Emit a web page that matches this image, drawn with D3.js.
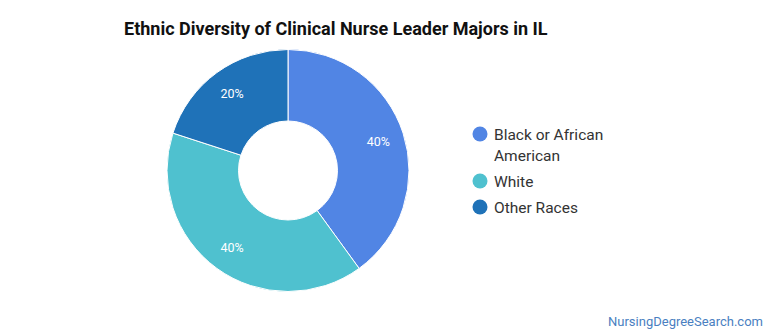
<!DOCTYPE html>
<html>
<head>
<meta charset="utf-8">
<script src="https://cdn.jsdelivr.net/npm/d3@7"></script>
<style>
  html, body { margin: 0; padding: 0; background: #fff; }
  body { width: 770px; height: 335px; overflow: hidden; font-family: Roboto, "Open Sans", sans-serif; }
</style>
</head>
<body>
<svg id="chart" width="770" height="335"></svg>
<script>
const title = "Ethnic Diversity of Clinical Nurse Leader Majors in IL";
const categories = ["Black or African American", "White", "Other Races"];
const legendLines = [["Black or African", "American"], ["White"], ["Other Races"]];
const values = [40, 40, 20];
const colors = ["#5185e4", "#4fc1cf", "#1f72b8"];
const watermark = "NursingDegreeSearch.com";

const svg = d3.select("#chart");

svg.append("text")
  .attr("x", 124).attr("y", 35)
  .attr("font-family", "Roboto, sans-serif")
  .attr("font-weight", "bold")
  .attr("font-size", 18)
  .attr("fill", "#111")
  .text(title);

const cx = 288, cy = 170.5, rOuter = 121, rInner = 49.5, rLabel = 95;
const pie = d3.pie().sort(null).value(d => d);
const arcs = pie(values);
const arc = d3.arc().innerRadius(rInner).outerRadius(rOuter);
const labelArc = d3.arc().innerRadius(rLabel).outerRadius(rLabel);

const g = svg.append("g").attr("transform", `translate(${cx},${cy})`);
g.selectAll("path").data(arcs).enter().append("path")
  .attr("d", arc)
  .attr("fill", (d, i) => colors[i])
  .attr("stroke", "#fff")
  .attr("stroke-width", 1);

const total = d3.sum(values);
g.selectAll("text.lbl").data(arcs).enter().append("text")
  .attr("class", "lbl")
  .attr("transform", d => `translate(${labelArc.centroid(d)})`)
  .attr("text-anchor", "middle")
  .attr("dy", "0.35em")
  .attr("font-family", "Roboto, sans-serif")
  .attr("font-size", 12.5)
  .attr("fill", "#fff")
  .text(d => Math.round(d.data / total * 100) + "%");

// Legend
const legendY = [134, 181, 207];
const lg = svg.append("g");
categories.forEach((c, i) => {
  lg.append("circle")
    .attr("cx", 480).attr("cy", legendY[i]).attr("r", 7.5)
    .attr("fill", colors[i]);
  const t = lg.append("text")
    .attr("x", 494).attr("y", legendY[i] + 5.5)
    .attr("font-family", "Roboto, sans-serif")
    .attr("font-size", 15.5)
    .attr("fill", "#333");
  legendLines[i].forEach((line, j) => {
    t.append("tspan").attr("x", 494).attr("dy", j === 0 ? 0 : 21.5).text(line);
  });
});

svg.append("text")
  .attr("x", 763).attr("y", 326)
  .attr("text-anchor", "end")
  .attr("font-family", "Roboto, sans-serif")
  .attr("font-size", 13)
  .attr("fill", "#4a7fc1")
  .text(watermark);
</script>
</body>
</html>
